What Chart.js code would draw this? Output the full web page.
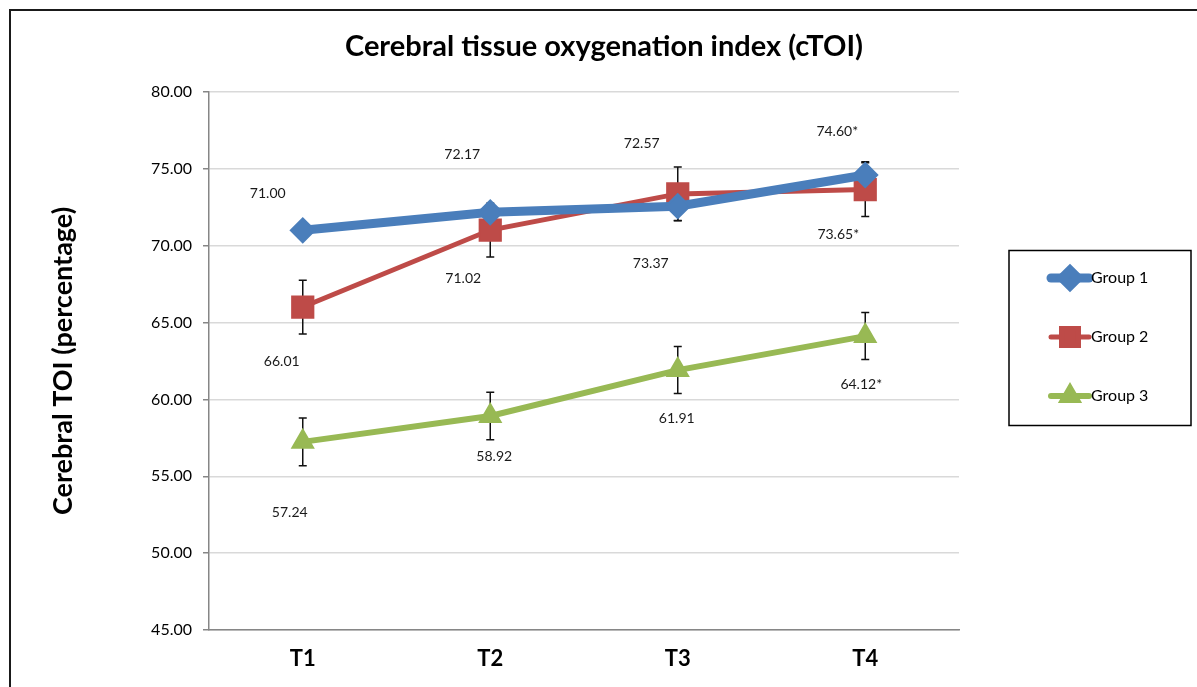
<!DOCTYPE html>
<html><head><meta charset="utf-8">
<script src="https://cdn.jsdelivr.net/npm/chart.js@4/dist/chart.umd.min.js"></script>
<style>html,body{margin:0;padding:0;background:#fff;overflow:hidden}</style>
</head><body>
<canvas id="c" width="1197" height="687"></canvas>
<script>
// ---- data ----
const categories = ['T1', 'T2', 'T3', 'T4'];
const seriesNames = ['Group 1', 'Group 2', 'Group 3'];
const group1 = [71.00, 72.17, 72.57, 74.60];
const group2 = [66.01, 71.02, 73.37, 73.65];
const group3 = [57.24, 58.92, 61.91, 64.12];
const group1Err = [0.45, 0.45, 0.93, 0.87];
const group2Err = [1.75, 1.75, 1.75, 1.75];
const group3Err = [1.55, 1.55, 1.53, 1.53];
const group1Mark = ['', '', '', '*'];
const group2Mark = ['', '', '', '*'];
const group3Mark = ['', '', '', '*'];
const yMin = 45, yMax = 80, yStep = 5;
const chartTitle = 'Cerebral tissue oxygenation index (cTOI)';
const yAxisTitle = 'Cerebral TOI (percentage)';

// ---- style (label offsets in px, not data) ----
const labelOffsets = [
  [[-35, -37], [-28, -58], [-36, -63], [-28, -44]],
  [[-21, 54], [-27, 48], [-27, 70], [-27, 45]],
  [[-13, 71], [4, 40], [-1, 48], [-4, 48]]
];
const legendMarkerRadius = [8, 12, 8];
const FONT = 'Lato, "Open Sans", sans-serif';

const errs = [group1Err, group2Err, group3Err];
const marks = [group1Mark, group2Mark, group3Mark];

const errorBars = {
  id: 'errorBars',
  beforeDatasetsDraw(chart) {
    const ctx = chart.ctx, y = chart.scales.y;
    ctx.save();
    ctx.strokeStyle = '#111';
    ctx.lineWidth = 1.5;
    chart.data.datasets.forEach((ds, i) => {
      const meta = chart.getDatasetMeta(i);
      meta.data.forEach((pt, j) => {
        const v = ds.data[j], e = errs[i][j];
        const t = y.getPixelForValue(v + e), b = y.getPixelForValue(v - e);
        ctx.beginPath();
        ctx.moveTo(pt.x, t); ctx.lineTo(pt.x, b);
        ctx.moveTo(pt.x - 4, t); ctx.lineTo(pt.x + 4, t);
        ctx.moveTo(pt.x - 4, b); ctx.lineTo(pt.x + 4, b);
        ctx.stroke();
      });
    });
    ctx.restore();
  }
};

const dataLabels = {
  id: 'dataLabels',
  afterDatasetsDraw(chart) {
    const ctx = chart.ctx;
    ctx.save();
    ctx.font = '14px ' + FONT;
    ctx.fillStyle = '#1a1a1a';
    ctx.textAlign = 'center';
    ctx.textBaseline = 'middle';
    chart.data.datasets.forEach((ds, i) => {
      chart.getDatasetMeta(i).data.forEach((pt, j) => {
        const o = labelOffsets[i][j];
        ctx.fillText(ds.data[j].toFixed(2) + marks[i][j], pt.x + o[0], pt.y + o[1]);
      });
    });
    ctx.restore();
  }
};

const frameTitleLegend = {
  id: 'frameTitleLegend',
  afterDraw(chart) {
    const ctx = chart.ctx;
    ctx.save();
    ctx.strokeStyle = '#1a1a1a';
    ctx.lineWidth = 2;
    ctx.strokeRect(10, 10, 1400, 900);
    // title
    ctx.fillStyle = '#000';
    ctx.font = 'bold 29px ' + FONT;
    ctx.textAlign = 'center';
    ctx.textBaseline = 'middle';
    ctx.fillText(chartTitle, 604, 47);
    // legend box
    ctx.lineWidth = 1.5;
    ctx.strokeStyle = '#000';
    ctx.strokeRect(1009, 250.5, 182, 175);
    const ys = [278, 337, 396];
    ctx.font = '16px ' + FONT;
    ctx.textAlign = 'left';
    chart.data.datasets.forEach((ds, i) => {
      const yy = ys[i];
      ctx.strokeStyle = ds.borderColor;
      ctx.lineWidth = ds.borderWidth;
      ctx.lineCap = 'round';
      ctx.beginPath(); ctx.moveTo(1051, yy); ctx.lineTo(1089, yy); ctx.stroke();
      ctx.fillStyle = ds.pointBackgroundColor;
      ctx.strokeStyle = ds.pointBorderColor;
      Chart.helpers.drawPoint(ctx, {pointStyle: ds.pointStyle, radius: legendMarkerRadius[i], rotation: 0, borderWidth: 1}, 1070, yy);
      ctx.fillStyle = '#000';
      ctx.fillText(ds.label, 1091, yy);
    });
    ctx.restore();
  }
};

const mk = (label, data, color, width, style, radius) => ({
  label, data,
  borderColor: color, borderWidth: width,
  backgroundColor: color,
  pointBackgroundColor: color, pointBorderColor: color,
  pointStyle: style, pointRadius: radius, pointBorderWidth: 2,
  pointHoverRadius: radius,
  tension: 0, fill: false
});

new Chart(document.getElementById('c'), {
  type: 'line',
  data: {
    labels: categories,
    datasets: [
      mk(seriesNames[0], group1, '#4a7ebb', 9, 'rectRot', 12),
      mk(seriesNames[1], group2, '#be4b48', 5, 'rect', 15),
      mk(seriesNames[2], group3, '#98b954', 6, 'triangle', 12)
    ]
  },
  options: {
    responsive: false,
    animation: false,
    events: [],
    layout: { padding: { left: 0, right: 238, top: 92, bottom: 0 } },
    plugins: {
      legend: { display: false },
      tooltip: { enabled: false },
      title: { display: false }
    },
    scales: {
      x: {
        offset: true,
        grid: { display: false },
        border: { color: '#868686', width: 1.5 },
        ticks: { color: '#000', font: { family: FONT, size: 22, weight: 'bold' }, padding: 8 },
        afterFit(s) { s.height = 57; }
      },
      y: {
        min: yMin, max: yMax,
        ticks: {
          stepSize: yStep, color: '#000', padding: 11,
          font: { family: FONT, size: 16 },
          callback: v => Number(v).toFixed(2)
        },
        grid: { color: '#d9d9d9', lineWidth: 1.5, tickLength: 6, tickColor: '#868686' },
        border: { color: '#868686', width: 1.5 },
        title: {
          display: true,
          text: yAxisTitle,
          color: '#000',
          font: { family: FONT, size: 27, weight: 'bold' },
          padding: { top: 47, bottom: 0 }
        },
        afterFit(s) { s.width = 209; }
      }
    }
  },
  plugins: [errorBars, dataLabels, frameTitleLegend]
});
</script>
</body></html>
